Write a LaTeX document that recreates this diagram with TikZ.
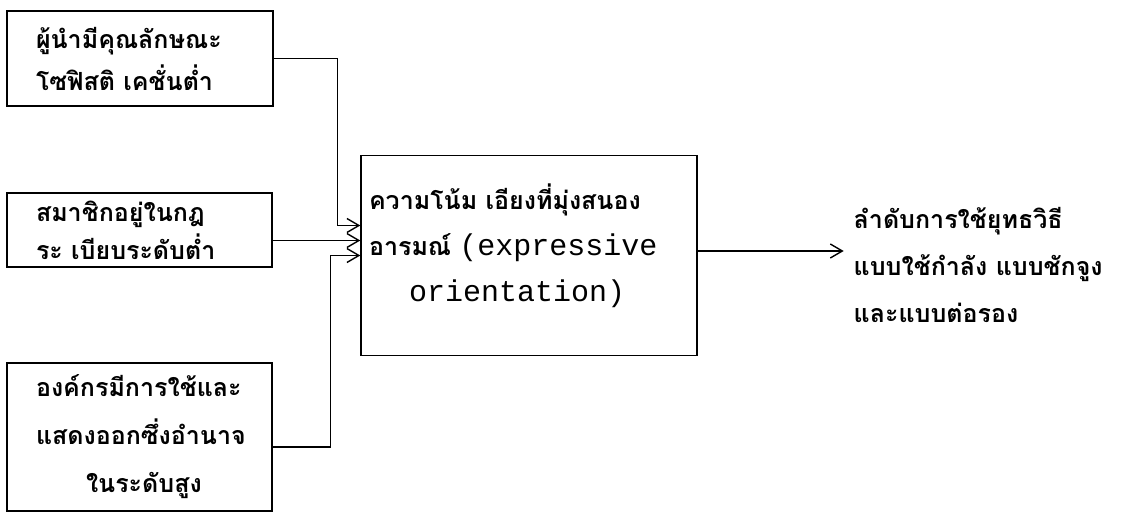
\documentclass[tikz,border=0pt]{standalone}
\usepackage{fontspec}
\newfontfamily\thaifont[Script=Thai]{Loma}
\newfontfamily\typefont{Liberation Mono}
\usetikzlibrary{arrows.meta,positioning}

\begin{document}
\begin{tikzpicture}[x=1pt, y=-1pt, line width=1.4pt,
  every node/.style={font=\thaifont\bfseries\fontsize{25}{42}\selectfont},
  box/.style={draw, rectangle, align=left, inner ysep=0pt, inner xsep=29pt},
  arr/.style={-{Straight Barb[length=12pt,width=14pt]}}]
  \useasboundingbox (0,0) rectangle (1137,513);

  % causes
  \node[box, text width=208pt, minimum height=95pt] (lead) at (140,58.5)
    {ผู้นำมีคุณลักษณะ\\โซฟิสติ เคชั่นต่ำ};
  \node[box, text width=207pt, minimum height=74pt,
    font=\thaifont\bfseries\fontsize{25}{38}\selectfont] (member) at (139.5,230)
    {สมาชิกอยู่ในกฎ\\ระ เบียบระดับต่ำ};
  \node[box, text width=207pt, minimum height=148pt,
    font=\thaifont\bfseries\fontsize{25}{48}\selectfont] (org) at (139.5,437)
    {องค์กรมีการใช้และ\\แสดงออกซึ่งอำนาจ\\\hspace*{50pt}ในระดับสูง};

  % orientation
  \node[box, inner xsep=8pt, minimum width=336pt, minimum height=200pt, text width=320pt,
    font=\thaifont\bfseries\fontsize{25}{46}\selectfont] (orient) at (529,255.5)
    {ความโน้ม เอียงที่มุ่งสนอง\\อารมณ์ {\typefont\mdseries\fontsize{30}{46}\selectfont(expressive}\\
     \hspace*{40pt}{\typefont\mdseries\fontsize{30}{46}\selectfont orientation)}\rule[-26pt]{0pt}{26pt}};
  \coordinate (in1) at ([yshift=30pt]orient.west);
  \coordinate (in2) at ([yshift=15pt]orient.west);
  \coordinate (in3) at ([yshift=0pt]orient.west);

  % result
  \node[align=left, anchor=west, inner sep=0pt,
    font=\thaifont\bfseries\fontsize{25}{47}\selectfont] (tactic) at (853,265)
    {ลำดับการใช้ยุทธวิธี\\แบบใช้กำลัง แบบชักจูง\\และแบบต่อรอง};

  % connectors
  \draw[arr] (lead.east) -- ++(64,0) |- (in1);
  \draw[arr] (member.east |- in2) -- (in2);
  \draw[arr] ([yshift=-10pt]org.east) -- ++(58,0) |- (in3);
  \draw[arr] ([yshift=4.5pt]orient.east) -- ++(146,0);
\end{tikzpicture}
\end{document}
